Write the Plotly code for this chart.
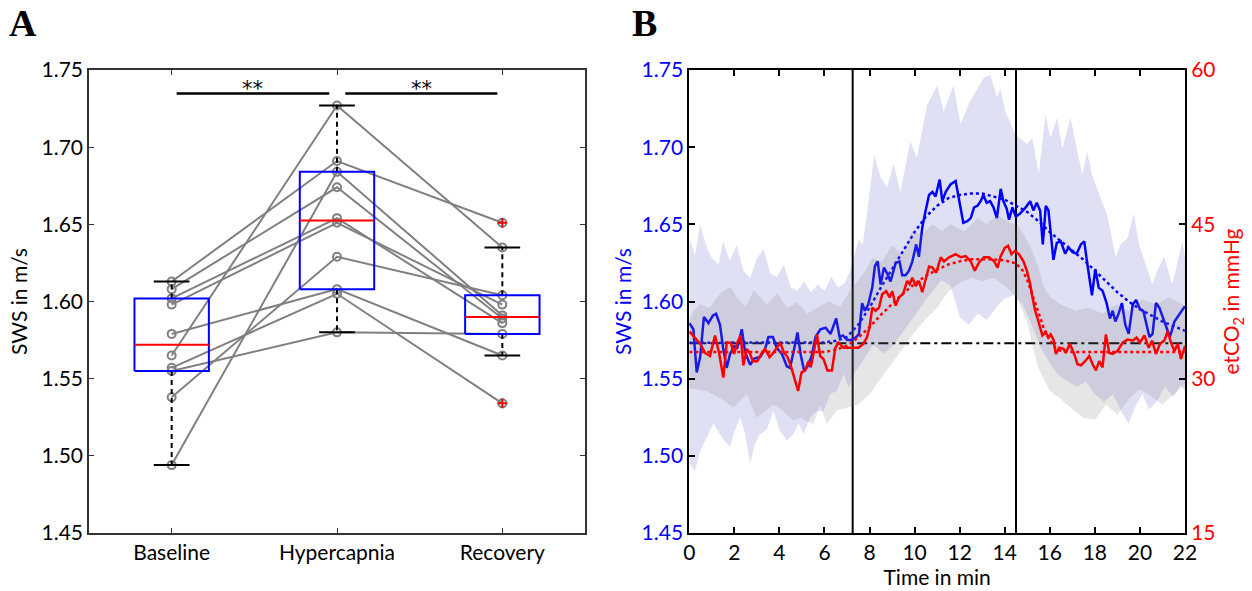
import plotly.graph_objects as go

# ---------------- Panel A data ----------------
conditions = ["Baseline", "Hypercapnia", "Recovery"]
sws_baseline = [1.613, 1.608, 1.602, 1.598, 1.579, 1.565, 1.557, 1.555, 1.538, 1.494]
sws_hypercapnia = [1.691, 1.674, 1.654, 1.651, 1.608, 1.727, 1.605, 1.580, 1.629, 1.684]
sws_recovery = [1.651, 1.589, 1.586, 1.598, 1.565, 1.635, 1.534, 1.579, 1.604, 1.591]
sig_label = "**"
sig_level = 1.7347

# ---------------- Panel B data ----------------
t_sws = [0.00, 0.18, 0.33, 0.48, 0.65, 0.85, 1.05, 1.19, 1.36, 1.51, 1.66, 1.81, 1.99, 2.13, 2.33, 2.48,
         2.70, 2.88, 3.14, 3.36, 3.51, 3.71, 3.88, 4.11, 4.33, 4.47, 4.65, 4.80, 4.95, 5.10, 5.25, 5.44,
         5.60, 5.82, 6.05, 6.27, 6.52, 6.67, 6.82, 7.01, 7.20, 7.41, 7.53, 7.67, 7.79, 7.94, 8.12, 8.24,
         8.36, 8.49, 8.64, 8.79, 8.93, 9.04, 9.16, 9.33, 9.45, 9.60, 9.75, 9.90, 10.07, 10.19, 10.34,
         10.49, 10.64, 10.79, 10.93, 11.11, 11.23, 11.38, 11.60, 11.82, 11.97, 12.16, 12.34, 12.49, 12.64,
         12.79, 12.93, 13.05, 13.20, 13.35, 13.50, 13.65, 13.82, 13.94, 14.09, 14.19, 14.34, 14.49, 14.68,
         14.93, 15.13, 15.27, 15.42, 15.57, 15.69, 15.82, 15.94, 16.04, 16.16, 16.31, 16.49, 16.68, 16.83,
         17.01, 17.19, 17.38, 17.53, 17.63, 17.75, 17.87, 18.02, 18.17, 18.34, 18.52, 18.67, 18.79, 18.91,
         19.05, 19.20, 19.35, 19.50, 19.68, 19.83, 20.00, 20.15, 20.27, 20.42, 20.56, 20.71, 20.86, 21.04,
         21.19, 21.33, 21.53, 21.68, 21.87, 22.00]
sws_mean = [1.586, 1.582, 1.554, 1.564, 1.590, 1.586, 1.591, 1.592, 1.585, 1.569, 1.557, 1.566, 1.571, 1.570,
            1.582, 1.567, 1.559, 1.563, 1.564, 1.569, 1.577, 1.577, 1.570, 1.566, 1.558, 1.557, 1.569, 1.580,
            1.565, 1.555, 1.558, 1.565, 1.577, 1.582, 1.583, 1.579, 1.589, 1.577, 1.578, 1.575, 1.575, 1.577,
            1.579, 1.599, 1.594, 1.598, 1.609, 1.623, 1.626, 1.611, 1.622, 1.618, 1.613, 1.618, 1.625, 1.626,
            1.617, 1.617, 1.620, 1.626, 1.637, 1.629, 1.648, 1.659, 1.669, 1.671, 1.668, 1.679, 1.665, 1.671,
            1.676, 1.678, 1.667, 1.651, 1.652, 1.654, 1.661, 1.662, 1.665, 1.669, 1.664, 1.665, 1.661, 1.654,
            1.673, 1.665, 1.660, 1.653, 1.661, 1.655, 1.657, 1.661, 1.665, 1.659, 1.664, 1.659, 1.637, 1.662,
            1.659, 1.643, 1.627, 1.638, 1.639, 1.631, 1.635, 1.632, 1.631, 1.637, 1.639, 1.628, 1.615, 1.604,
            1.621, 1.609, 1.607, 1.599, 1.589, 1.594, 1.587, 1.592, 1.599, 1.585, 1.579, 1.598, 1.601, 1.595,
            1.594, 1.587, 1.577, 1.579, 1.599, 1.596, 1.589, 1.582, 1.577, 1.587, 1.590, 1.594, 1.597]

t_co2 = [0.00, 0.25, 0.48, 0.70, 0.92, 1.14, 1.33, 1.51, 1.66, 1.84, 1.99, 2.13, 2.28, 2.40, 2.55, 2.70,
         2.82, 3.02, 3.22, 3.36, 3.56, 3.73, 3.88, 4.03, 4.21, 4.36, 4.50, 4.67, 4.83, 4.98, 5.14, 5.29,
         5.39, 5.51, 5.66, 5.81, 5.96, 6.13, 6.33, 6.48, 6.62, 6.85, 7.07, 7.29, 7.51, 7.73, 7.88, 8.00,
         8.12, 8.27, 8.42, 8.56, 8.74, 8.89, 9.01, 9.16, 9.30, 9.48, 9.67, 9.78, 9.90, 10.05, 10.19, 10.34,
         10.49, 10.64, 10.79, 10.96, 11.16, 11.30, 11.53, 11.82, 12.05, 12.27, 12.49, 12.67, 12.86, 13.08,
         13.30, 13.53, 13.68, 13.82, 14.00, 14.15, 14.30, 14.44, 14.63, 14.83, 14.98, 15.13, 15.23, 15.35,
         15.45, 15.57, 15.67, 15.82, 15.94, 16.04, 16.16, 16.27, 16.42, 16.61, 16.71, 16.89, 17.08, 17.23,
         17.38, 17.57, 17.75, 17.90, 18.05, 18.19, 18.34, 18.49, 18.64, 18.79, 19.01, 19.23, 19.45, 19.68,
         19.85, 20.00, 20.20, 20.39, 20.54, 20.71, 20.89, 21.08, 21.23, 21.38, 21.53, 21.68, 21.82, 22.00]
co2_mean = [34.6, 34.0, 33.4, 32.5, 32.2, 34.2, 32.4, 30.1, 33.5, 33.5, 32.4, 33.5, 34.2, 31.3, 32.9, 32.4,
            31.7, 31.7, 32.5, 32.9, 32.1, 32.5, 33.0, 33.5, 32.5, 32.1, 31.3, 30.1, 28.8, 30.6, 30.8, 31.7,
            31.1, 32.4, 34.3, 32.2, 31.9, 30.8, 30.8, 33.0, 33.5, 33.0, 33.0, 33.0, 33.0, 33.4, 34.0, 35.0,
            36.9, 36.6, 36.9, 38.2, 38.5, 37.9, 38.5, 37.1, 37.9, 38.2, 39.5, 39.2, 39.8, 39.0, 39.5, 38.4,
            39.7, 40.9, 40.8, 40.3, 41.8, 41.4, 41.8, 42.1, 41.8, 41.9, 41.4, 40.5, 41.3, 41.8,
            41.8, 41.4, 40.8, 41.9, 42.7, 42.9, 42.1, 42.4, 42.1, 41.4, 40.5, 39.2, 37.9, 36.6,
            35.9, 35.0, 34.2, 34.5, 34.0, 34.3, 33.8, 32.4, 33.0, 32.9, 32.5, 33.4, 32.4, 31.4,
            31.3, 31.7, 32.2, 31.4, 30.8, 31.7, 31.1, 34.3, 32.5, 32.4, 32.7, 33.5, 33.8, 33.7,
            34.0, 33.5, 34.2, 33.0, 33.7, 32.4, 33.4, 33.7, 34.6, 33.5, 32.7, 33.4, 31.9, 33.2]

t_fit = [0, 6, 6.5, 7, 7.5, 8, 8.5, 9, 9.5, 10, 10.5, 11, 11.5, 12, 12.5, 13, 13.5, 14, 14.5, 15, 15.5,
         16, 16.5, 17, 17.5, 18, 18.5, 19, 19.5, 20, 20.5, 21, 21.5, 22]
sws_fit = [1.5733, 1.5735, 1.5745, 1.577, 1.585, 1.596, 1.609, 1.621, 1.633, 1.645, 1.655, 1.662, 1.667,
           1.669, 1.670, 1.670, 1.668, 1.666, 1.662, 1.658, 1.652, 1.645, 1.639, 1.633, 1.627, 1.620, 1.613,
           1.606, 1.600, 1.595, 1.591, 1.587, 1.584, 1.581]
t_co2_fit = [0, 6, 6.5, 7, 7.5, 8, 8.5, 9, 9.5, 10, 10.5, 11, 11.5, 12, 12.5, 13, 13.5, 14, 14.5, 14.8,
             15.0, 15.25, 15.5, 15.75, 16.0, 16.25, 16.5, 17, 22]
co2_fit = [32.6, 32.6, 32.8, 33.2, 34.0, 35.0, 36.2, 37.3, 38.3, 39.2, 40.0, 40.6, 41.1, 41.4, 41.6, 41.6,
           41.6, 41.5, 41.2, 40.5, 39.6, 38.0, 36.3, 34.8, 33.7, 33.0, 32.7, 32.6, 32.6]

# SWS mean +/- SD band edges
t_sws_up = [0, 0.25, 0.48, 0.75, 1.0, 1.3, 1.5, 1.8, 2.1, 2.4, 2.7, 3.0, 3.3, 3.6, 3.9, 4.2, 4.5, 4.8, 5.1,
            5.4, 5.7, 6.0, 6.3, 6.6, 6.9, 7.2, 7.5, 7.7, 7.88, 8.2, 8.5, 8.77, 9.07, 9.37, 9.81, 10.1, 10.55,
            11.0, 11.29, 11.73, 12.03, 12.47, 12.8, 13.07, 13.36, 13.66, 13.81, 14.03, 14.48, 14.99, 15.22,
            15.51, 15.81, 16.03, 16.33, 16.55, 16.92, 17.21, 17.44, 17.66, 17.88, 18.25, 18.55, 18.92, 19.14,
            19.44, 19.73, 19.96, 20.25, 20.55, 20.77, 21.07, 21.44, 21.88, 22]
sws_up = [1.641, 1.630, 1.650, 1.636, 1.628, 1.624, 1.639, 1.626, 1.637, 1.620, 1.615, 1.628, 1.634, 1.618,
          1.616, 1.624, 1.609, 1.607, 1.613, 1.606, 1.611, 1.607, 1.616, 1.609, 1.612, 1.622, 1.640, 1.637,
          1.656, 1.695, 1.680, 1.674, 1.689, 1.671, 1.704, 1.693, 1.727, 1.740, 1.723, 1.740, 1.715, 1.730,
          1.738, 1.745, 1.747, 1.732, 1.738, 1.723, 1.708, 1.702, 1.706, 1.683, 1.721, 1.706, 1.719, 1.699,
          1.719, 1.697, 1.682, 1.697, 1.682, 1.667, 1.656, 1.629, 1.637, 1.641, 1.657, 1.637, 1.624, 1.611,
          1.620, 1.629, 1.611, 1.639, 1.630]
t_sws_lo = [0, 0.25, 0.48, 0.77, 1.07, 1.36, 1.66, 1.81, 1.96, 2.25, 2.48, 2.70, 2.92, 3.14, 3.44, 3.73,
            4.03, 4.33, 4.62, 4.85, 5.07, 5.36, 5.66, 5.96, 6.25, 6.55, 6.85, 7.07, 7.29, 7.59, 7.88, 8.18,
            8.62, 9.07, 9.51, 9.96, 10.25, 10.70, 11.2, 11.6, 12.0, 12.4, 12.8, 13.2, 13.6, 14.0, 14.4, 14.8,
            15.2, 15.6, 16.0, 16.4, 16.8, 17.2, 17.6, 18.0, 18.4, 18.8, 19.2, 19.5, 19.8, 20.1, 20.4, 20.8,
            21.1, 21.5, 21.8, 22]
sws_lo = [1.495, 1.490, 1.503, 1.512, 1.521, 1.514, 1.508, 1.506, 1.514, 1.525, 1.514, 1.495, 1.508, 1.514,
          1.517, 1.529, 1.516, 1.510, 1.514, 1.521, 1.514, 1.525, 1.529, 1.529, 1.540, 1.542, 1.553, 1.544,
          1.553, 1.559, 1.566, 1.572, 1.566, 1.572, 1.581, 1.590, 1.596, 1.605, 1.614, 1.610, 1.590, 1.585,
          1.592, 1.588, 1.596, 1.602, 1.604, 1.598, 1.585, 1.570, 1.560, 1.552, 1.548, 1.545, 1.548, 1.540,
          1.535, 1.540, 1.528, 1.521, 1.532, 1.540, 1.530, 1.536, 1.545, 1.538, 1.546, 1.542]

# etCO2 mean +/- SD band edges (mmHg)
t_co2_up = [0, 0.2, 0.49, 0.9, 1.38, 1.82, 2.12, 2.5, 2.86, 3.45, 3.9, 4.34, 4.79, 5.23, 5.68, 6.2, 6.7,
            7.23, 7.67, 8.12, 8.56, 9.01, 9.45, 9.9, 10.34, 10.79, 11.2, 11.6, 12.2, 12.79, 13.2, 13.68,
            14.1, 14.55, 14.86, 15.16, 15.45, 15.75, 16.04, 16.49, 17.16, 17.75, 18.34, 18.94, 19.53, 20.12,
            20.71, 21.3, 21.9, 22]
co2_up = [35.6, 36.6, 37.2, 36.9, 38.3, 38.9, 37.9, 37.0, 38.6, 37.2, 38.3, 36.9, 37.4, 36.3, 36.9, 37.5,
          37.0, 38.9, 40.0, 41.7, 41.4, 43.0, 42.0, 44.4, 44.0, 45.0, 44.3, 45.0, 44.3, 45.6, 45.0, 45.9,
          45.3, 44.9, 44.0, 42.7, 41.1, 38.8, 37.9, 37.2, 36.6, 36.9, 36.3, 37.2, 36.6, 37.7, 37.2, 37.9,
          37.2, 37.0]
t_co2_lo = [0, 0.77, 1.51, 1.96, 2.55, 2.99, 3.73, 4.2, 4.62, 4.92, 5.51, 5.81, 6.1, 6.55, 7.0, 7.5, 8.0,
            8.5, 9.0, 9.5, 10.0, 10.5, 11.0, 11.5, 12.0, 12.5, 13.0, 13.5, 14.0, 14.5, 15.0, 15.2, 15.5,
            16.0, 16.5, 17.0, 17.5, 18.0, 18.5, 19.0, 19.5, 20.0, 20.5, 21.0, 21.5, 22]
co2_lo = [29.1, 28.8, 27.9, 27.2, 28.5, 26.2, 27.5, 26.8, 25.9, 26.2, 25.6, 27.5, 25.6, 26.9, 27.2, 27.5,
          28.5, 30.0, 31.5, 33.0, 34.5, 35.8, 36.9, 38.5, 39.3, 39.8, 39.5, 39.8, 39.0, 38.0, 35.5, 33.5,
          31.0, 28.8, 28.0, 27.0, 26.2, 26.0, 27.5, 26.5, 28.0, 29.0, 28.3, 27.5, 28.5, 29.5]

phase_bounds = [7.25, 14.5]
sws_baseline_level = 1.573

# ---------------- styling ----------------
FONT = "Lato"
FS = 21
BLUE = "#0000ff"
RED = "#ff0000"
GRAY = "#808080"

W, H = 1252, 591
M_L, M_R, M_TOP, M_BOT = 89, 67, 70, 55
PW = W - M_L - M_R
PLOT_H = H - M_TOP - M_BOT


def px_dom(a, b):
    return [max(0.0, (a - M_L) / PW), min(1.0, (b - M_L) / PW)]


def mpct(vals, p):
    s = sorted(vals)
    n = len(s)
    pos = p * n + 0.5
    if pos <= 1:
        return s[0]
    if pos >= n:
        return s[-1]
    i = int(pos)
    f = pos - i
    return s[i - 1] + f * (s[i] - s[i - 1])


fig = go.Figure()

# --- Panel A: subject lines
groups = [sws_baseline, sws_hypercapnia, sws_recovery]
xs, ys = [], []
for k in range(len(sws_baseline)):
    xs += [1, 2, 3, None]
    ys += [sws_baseline[k], sws_hypercapnia[k], sws_recovery[k], None]
fig.add_trace(go.Scatter(x=xs, y=ys, mode="lines+markers", xaxis="x", yaxis="y",
                         line=dict(color=GRAY, width=2),
                         marker=dict(symbol="circle-open", size=8, color=GRAY, line=dict(width=2)),
                         showlegend=False, hoverinfo="skip"))

# --- Panel A: boxes
bw, cw = 0.225, 0.108
for i, vals in enumerate(groups):
    c = i + 1
    q1, med, q3 = mpct(vals, 0.25), mpct(vals, 0.5), mpct(vals, 0.75)
    iqr = q3 - q1
    inside = [v for v in vals if q1 - 1.5 * iqr <= v <= q3 + 1.5 * iqr]
    lo, hi = min(inside), max(inside)
    outl = [v for v in vals if v not in inside]
    fig.add_trace(go.Scatter(x=[c, c, None, c, c], y=[q3, hi, None, q1, lo], mode="lines",
                             line=dict(color="black", width=2, dash="5px,4px"),
                             xaxis="x", yaxis="y", showlegend=False, hoverinfo="skip"))
    fig.add_trace(go.Scatter(x=[c - cw, c + cw, None, c - cw, c + cw], y=[hi, hi, None, lo, lo],
                             mode="lines", line=dict(color="black", width=2),
                             xaxis="x", yaxis="y", showlegend=False, hoverinfo="skip"))
    fig.add_trace(go.Scatter(x=[c - bw, c + bw, c + bw, c - bw, c - bw], y=[q1, q1, q3, q3, q1],
                             mode="lines", line=dict(color=BLUE, width=2),
                             xaxis="x", yaxis="y", showlegend=False, hoverinfo="skip"))
    fig.add_trace(go.Scatter(x=[c - bw, c + bw], y=[med, med], mode="lines",
                             line=dict(color=RED, width=2),
                             xaxis="x", yaxis="y", showlegend=False, hoverinfo="skip"))
    if outl:
        fig.add_trace(go.Scatter(x=[c] * len(outl), y=outl, mode="markers",
                                 marker=dict(symbol="cross-thin", size=7, color=RED,
                                             line=dict(color=RED, width=2)),
                                 xaxis="x", yaxis="y", showlegend=False, hoverinfo="skip"))

# significance bars
fig.add_trace(go.Scatter(x=[1.03, 1.953, None, 2.05, 2.97], y=[sig_level] * 2 + [None] + [sig_level] * 2,
                         mode="lines", line=dict(color="black", width=2.5),
                         xaxis="x", yaxis="y", showlegend=False, hoverinfo="skip"))
for xm in [1.49, 2.51]:
    fig.add_annotation(x=xm, y=sig_level, xref="x", yref="y", text=sig_label, showarrow=False,
                       yanchor="middle", yshift=5, font=dict(family="DejaVu Sans", size=21, color="black"))

# --- Panel B: bands
fig.add_trace(go.Scatter(x=t_sws_up + t_sws_lo[::-1], y=sws_up + sws_lo[::-1], fill="toself",
                         fillcolor="rgba(102,102,204,0.2)", line=dict(width=0),
                         xaxis="x2", yaxis="y2", showlegend=False, hoverinfo="skip"))
fig.add_trace(go.Scatter(x=t_co2_up + t_co2_lo[::-1], y=co2_up + co2_lo[::-1], fill="toself",
                         fillcolor="rgba(128,128,128,0.2)", line=dict(width=0),
                         xaxis="x2", yaxis="y3", showlegend=False, hoverinfo="skip"))

# baseline reference and phase boundaries
fig.add_trace(go.Scatter(x=[0, 22], y=[sws_baseline_level] * 2, mode="lines",
                         line=dict(color="black", width=2, dash="10px,4px,3px,4px"),
                         xaxis="x2", yaxis="y2", showlegend=False, hoverinfo="skip"))
for tb in phase_bounds:
    fig.add_trace(go.Scatter(x=[tb, tb], y=[1.45, 1.75], mode="lines", line=dict(color="black", width=2),
                             xaxis="x2", yaxis="y2", showlegend=False, hoverinfo="skip"))

# lines
fig.add_trace(go.Scatter(x=t_sws, y=sws_mean, mode="lines", line=dict(color=BLUE, width=2.5),
                         xaxis="x2", yaxis="y2", showlegend=False))
fig.add_trace(go.Scatter(x=t_fit, y=sws_fit, mode="lines", line=dict(color=BLUE, width=2.5, dash="dot"),
                         xaxis="x2", yaxis="y2", showlegend=False))
fig.add_trace(go.Scatter(x=t_co2, y=co2_mean, mode="lines", line=dict(color=RED, width=2.5),
                         xaxis="x2", yaxis="y3", showlegend=False))
fig.add_trace(go.Scatter(x=t_co2_fit, y=co2_fit, mode="lines", line=dict(color=RED, width=2.5, dash="dot"),
                         xaxis="x2", yaxis="y3", showlegend=False))

tickfont = dict(family=FONT, size=FS, color="black")
axA = dict(showline=True, linecolor="#333333", linewidth=1.5, mirror="ticks", ticks="inside",
           ticklen=5, tickcolor="#333333", showgrid=False, zeroline=False)
axB = dict(showline=True, linecolor="black", linewidth=2, ticks="inside",
           ticklen=6, tickcolor="black", tickwidth=1.5, showgrid=False, zeroline=False)

fig.update_layout(
    width=W, height=H,
    margin=dict(l=M_L, r=M_R, t=M_TOP, b=M_BOT),
    paper_bgcolor="white", plot_bgcolor="white",
    font=dict(family=FONT, size=FS, color="black"),
    xaxis=dict(domain=px_dom(89, 585), range=[0.5, 3.5], tickvals=[1, 2, 3], ticktext=conditions,
               anchor="y", tickfont=tickfont, **axA),
    yaxis=dict(domain=[0, 1], range=[1.45, 1.75], dtick=0.05, tickformat=".2f", anchor="x",
               tickfont=tickfont, title=dict(text="SWS in m/s", font=dict(family=FONT, size=FS), standoff=8),
               **axA),
    xaxis2=dict(domain=px_dom(689.3, 1185), range=[0, 22], dtick=2, anchor="y2", mirror="ticks",
                tickfont=tickfont, title=dict(text="Time in min", font=dict(family=FONT, size=FS), standoff=0),
                **axB),
    yaxis2=dict(domain=[0, 1], range=[1.45, 1.75], dtick=0.05, tickformat=".2f", anchor="x2",
                tickfont=dict(family=FONT, size=FS, color=BLUE),
                title=dict(text="SWS in m/s", font=dict(family=FONT, size=FS, color=BLUE), standoff=4),
                **axB),
    yaxis3=dict(range=[15, 60], dtick=15, anchor="x2", overlaying="y2", side="right",
                tickfont=dict(family=FONT, size=FS, color=RED),
                title=dict(text="etCO<sub>2</sub> in mmHg", font=dict(family=FONT, size=FS, color=RED),
                           standoff=10),
                **axB),
)

for label, xpx in [("A", 7), ("B", 630)]:
    fig.add_annotation(x=(xpx - M_L) / PW, y=1 + (M_TOP - 23) / PLOT_H, xref="paper", yref="paper",
                       text="<b>%s</b>" % label, showarrow=False, xanchor="left", yanchor="middle",
                       font=dict(family="Liberation Serif", size=38, color="black"))

fig.write_html("out.html", config={"displayModeBar": False},
               post_script="document.body.style.margin='0px';")
